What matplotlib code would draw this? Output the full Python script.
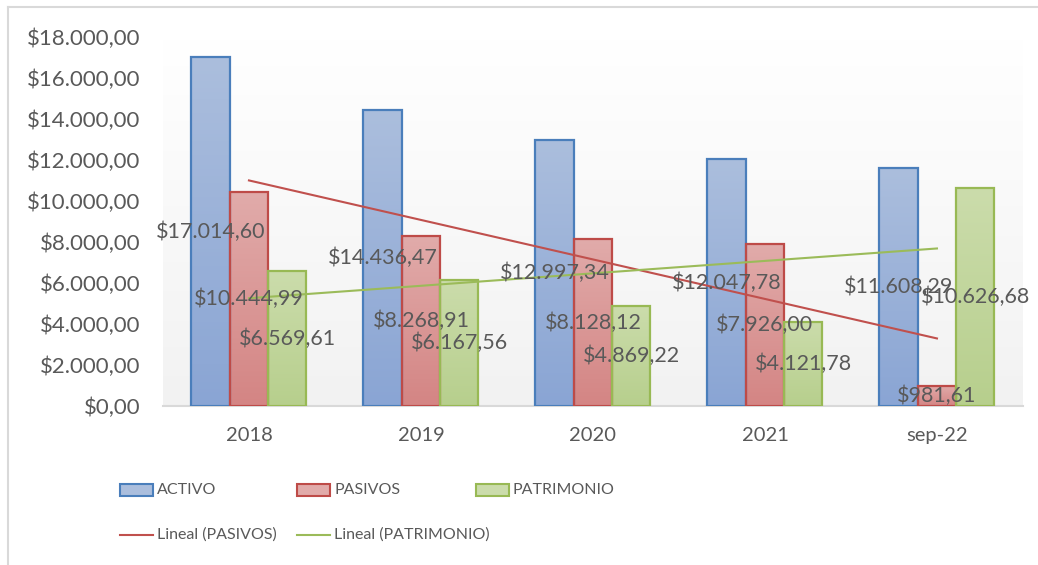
import numpy as np
import matplotlib.pyplot as plt
from matplotlib.colors import LinearSegmentedColormap
from matplotlib.patches import Rectangle
from matplotlib.lines import Line2D

# Datos del gráfico
categorias = ['2018', '2019', '2020', '2021', 'sep-22']
activo = [17014.60, 14436.47, 12997.34, 12047.78, 11608.29]
pasivos = [10444.99, 8268.91, 8128.12, 7926.00, 981.61]
patrimonio = [6569.61, 6167.56, 4869.22, 4121.78, 10626.68]
series = ['ACTIVO', 'PASIVOS', 'PATRIMONIO']
ticks_y = [0, 2000, 4000, 6000, 8000, 10000, 12000, 14000, 16000, 18000]


def formato(v):
    s = f"{v:,.2f}"
    return '$' + s.replace(',', 'X').replace('.', ',').replace('X', '.')


plt.rcParams['font.family'] = ['Lato', 'DejaVu Sans']
gris = '#595959'

# colores: (arriba, abajo, borde)
estilos = [('#abbedd', '#8aa5d4', '#4a7ebb'),
           ('#e1abaa', '#d48584', '#be4b48'),
           ('#cbdcab', '#b7cf8d', '#98b954')]

fig = plt.figure(figsize=(10.38, 5.65), dpi=100)
fig.patch.set_facecolor('white')
W, H = 1038, 565
def fx(px):
    return px / W
def fy(py):
    return 1 - py / H

# borde del gráfico (solo arriba e izquierda visibles)
fig.add_artist(Line2D([fx(8), 1], [fy(7), fy(7)], transform=fig.transFigure,
                      color='#d9d9d9', linewidth=1.5))
fig.add_artist(Line2D([fx(8), fx(8)], [fy(7), 0], transform=fig.transFigure,
                      color='#d9d9d9', linewidth=1.5))

ax = fig.add_axes([0.157, 0.2814, 0.8285, 0.6531])
x = np.arange(len(categorias))
ancho = 0.223

# fondo degradado del área de trazado
fondo = np.linspace(0, 1, 100).reshape(-1, 1)
ax.imshow(fondo, extent=[0, 1, 0, 1], transform=ax.transAxes, aspect='auto',
          cmap=LinearSegmentedColormap.from_list('f', ['#f2f2f2', '#ffffff']),
          origin='lower', zorder=0)

for i, (datos, (c1, c2, borde)) in enumerate(zip([activo, pasivos, patrimonio], estilos)):
    cmap = LinearSegmentedColormap.from_list('g%d' % i, [c2, c1])
    pos = x + (i - 1) * ancho
    for xi, v in zip(pos, datos):
        ax.imshow(fondo, extent=[xi - ancho / 2, xi + ancho / 2, 0, v], aspect='auto',
                  cmap=cmap, origin='lower', zorder=2)
    ax.bar(pos, datos, width=ancho, facecolor='none', edgecolor=borde, linewidth=1.6, zorder=3)

# líneas de tendencia
for datos, color in [(pasivos, '#c0504d'), (patrimonio, '#9bbb59')]:
    m, b = np.polyfit(x, datos, 1)
    ax.plot(x, m * x + b, color=color, linewidth=1.5, zorder=4)

# etiquetas de datos
for i, datos in enumerate([activo, pasivos, patrimonio]):
    pos = x + (i - 1) * ancho
    for xi, v in zip(pos, datos):
        ax.text(xi, v / 2, formato(v), ha='center', va='center', fontsize=15.5,
                color=gris, zorder=5)

ax.set_xlim(-0.5, len(categorias) - 0.5)
ax.set_ylim(0, 18000)
ax.set_yticks(ticks_y)
ax.set_yticklabels([formato(t) for t in ticks_y], fontsize=16, color=gris)
ax.set_xticks(x)
ax.set_xticklabels(categorias, fontsize=14.5, color=gris)
ax.tick_params(length=0)
ax.tick_params(axis='y', pad=16)
ax.tick_params(axis='x', pad=15)
for lado in ['top', 'right', 'left']:
    ax.spines[lado].set_visible(False)
ax.spines['bottom'].set_color('#d9d9d9')
ax.spines['bottom'].set_linewidth(1.5)

# leyenda manual
for col, (nombre, (c1, c2, borde)) in zip([120, 297, 476], zip(series, estilos)):
    fig.add_artist(Rectangle((fx(col), fy(496)), fx(33), 12 / H, transform=fig.transFigure,
                             facecolor=c1, edgecolor=borde, linewidth=1.5))
    fig.text(fx(col + 37), fy(490), nombre, fontsize=11.5, color=gris, va='center')

for col, nombre, color in [(120, 'Lineal (PASIVOS)', '#c0504d'), (297, 'Lineal (PATRIMONIO)', '#9bbb59')]:
    fig.add_artist(Line2D([fx(col), fx(col + 33)], [fy(535), fy(535)], transform=fig.transFigure,
                          color=color, linewidth=1.5))
    fig.text(fx(col + 37), fy(535), nombre, fontsize=11.5, color=gris, va='center')

fig.savefig('out.png', dpi=100)
